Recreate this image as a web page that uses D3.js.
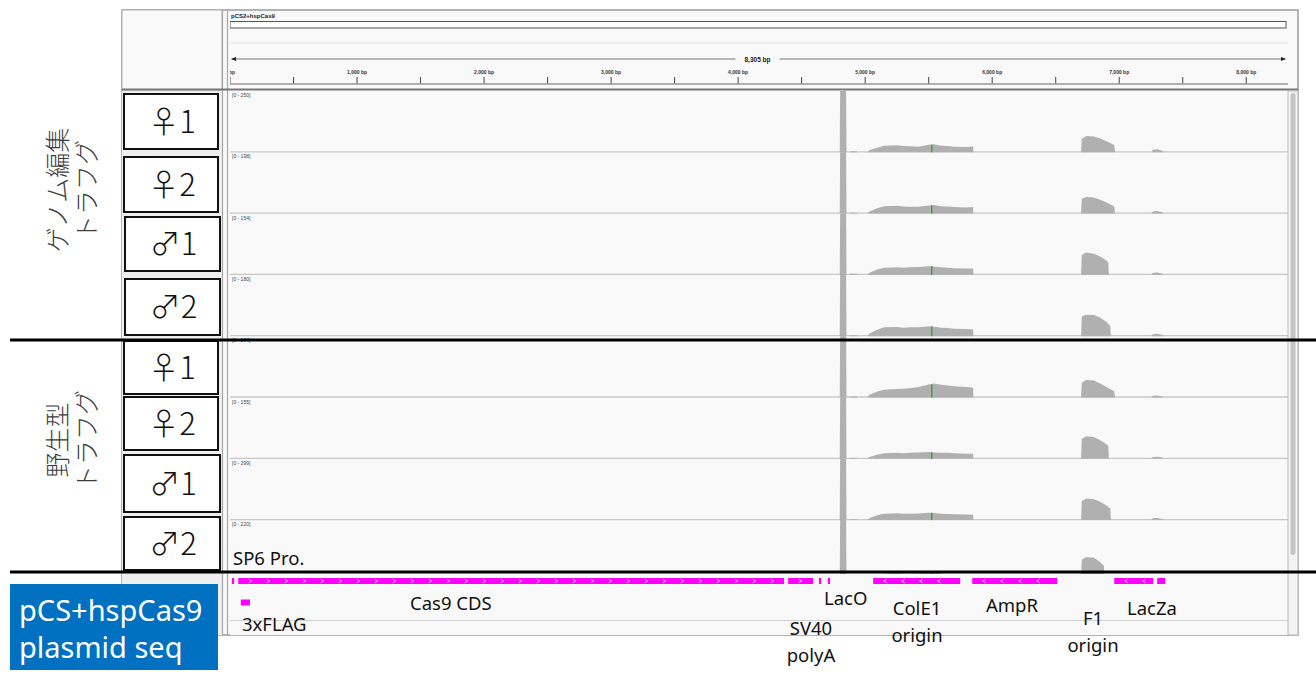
<!DOCTYPE html>
<html>
<head>
<meta charset="utf-8">
<script src="https://cdn.jsdelivr.net/npm/d3@7"></script>
<style>
  body { margin: 0; background: #fff; }
  svg { display: block; }
</style>
</head>
<body>
<svg id="chart" width="1316" height="673"></svg>
<script>
// ---- data ----
var genomeName = "pCS2+hspCas9";
var genomeLength = 8305;
var majorTicks = [0, 1000, 2000, 3000, 4000, 5000, 6000, 7000, 8000];
var minorTicks = [500, 1500, 2500, 3500, 4500, 5500, 6500, 7500];

var sampleLabels = ["♀1", "♀2", "♂1", "♂2", "♀1", "♀2", "♂1", "♂2"];
var dataRanges = [250, 198, 154, 180, 174, 155, 399, 220];
var groupLabels = [["ゲノム編集", "トラフグ"], ["野生型", "トラフグ"]];

// coverage, [bp, depth]; 5000 = off scale spike
var covF1 = [[4800,0],[4803,5000],[4850,5000],[4853,0],[4880,0],[4882,4],[4935,4],[4937,0],[5020,0],[5030,8],[5100,20],[5150,27],[5250,29],[5300,26],[5350,25],[5420,23],[5500,31],[5540,33],[5600,27],[5650,26],[5700,23],[5800,22],[5850,24],[5852,0],[6700,0],[6705,55],[6740,66],[6800,64],[6850,56],[6900,45],[6960,30],[6968,0],[7255,0],[7262,10],[7300,12],[7340,6],[7350,0]];
var covF2 = [[4800,0],[4803,5000],[4850,5000],[4853,0],[4880,0],[4882,3],[4935,3],[4937,0],[5020,0],[5030,6],[5100,18],[5150,24],[5250,25],[5300,23],[5350,22],[5420,22],[5500,26],[5540,28],[5600,24],[5650,23],[5700,21],[5800,20],[5850,21],[5852,0],[6700,0],[6705,48],[6740,54],[6800,52],[6850,45],[6900,36],[6960,24],[6968,0],[7255,0],[7262,7],[7300,8],[7340,4],[7350,0]];
var covM1 = [[4800,0],[4803,5000],[4850,5000],[4853,0],[4880,0],[4882,3],[4935,3],[4937,0],[5020,0],[5030,5],[5100,14],[5150,18],[5250,19],[5300,18],[5350,19],[5420,20],[5500,22],[5540,21],[5600,19],[5650,18],[5700,17],[5800,16],[5850,16],[5852,0],[6700,0],[6705,50],[6740,56],[6800,53],[6850,46],[6900,36],[6915,30],[6918,0],[7255,0],[7262,5],[7300,6],[7340,3],[7350,0]];
var covM2 = [[4800,0],[4803,5000],[4850,5000],[4853,0],[4880,0],[4882,3],[4935,3],[4937,0],[5020,0],[5030,7],[5100,20],[5150,26],[5250,27],[5300,25],[5350,26],[5420,26],[5500,29],[5540,28],[5600,25],[5650,24],[5700,22],[5800,21],[5850,20],[5852,0],[6700,0],[6705,58],[6740,63],[6800,62],[6850,55],[6900,42],[6930,30],[6934,0],[7255,0],[7262,6],[7300,7],[7340,4],[7350,0]];
var covWF1 = [[4800,0],[4803,5000],[4850,5000],[4853,0],[4880,0],[4882,3],[4935,3],[4937,0],[5020,0],[5030,7],[5100,18],[5150,22],[5250,24],[5300,25],[5350,26],[5420,30],[5500,37],[5540,40],[5600,36],[5650,34],[5700,32],[5800,30],[5850,28],[5852,0],[6700,0],[6705,42],[6740,50],[6800,48],[6850,40],[6900,30],[6960,18],[6968,0],[7255,0],[7262,5],[7300,6],[7340,3],[7350,0]];
var covWF2 = [[4800,0],[4803,5000],[4850,5000],[4853,0],[4880,0],[4882,2],[4935,2],[4937,0],[5020,0],[5030,4],[5100,11],[5150,14],[5250,15],[5300,14],[5350,15],[5420,16],[5500,17],[5540,16],[5600,15],[5650,15],[5700,14],[5800,13],[5850,13],[5852,0],[6700,0],[6705,50],[6740,57],[6800,55],[6850,47],[6900,37],[6915,32],[6918,0],[7255,0],[7262,4],[7300,5],[7340,3],[7350,0]];
var covWM1 = [[4800,0],[4803,5000],[4850,5000],[4853,0],[4880,0],[4882,6],[4935,6],[4937,0],[5020,0],[5030,12],[5100,34],[5150,42],[5250,44],[5300,41],[5350,42],[5420,43],[5500,48],[5540,46],[5600,42],[5650,40],[5700,38],[5800,36],[5850,35],[5852,0],[6700,0],[6705,125],[6740,140],[6800,136],[6850,120],[6900,95],[6930,75],[6934,0],[7255,0],[7262,12],[7300,14],[7340,7],[7350,0]];
var covWM2 = [[4800,0],[4803,5000],[4850,5000],[4853,0],[4880,0],[4882,4],[4935,4],[4937,0],[5020,0],[5030,8],[5100,22],[5150,28],[5250,30],[5300,28],[5350,28],[5420,29],[5500,32],[5540,31],[5600,28],[5650,27],[5700,25],[5800,24],[5850,23],[5852,0],[6700,0],[6705,78],[6740,88],[6800,85],[6850,70],[6880,55],[6884,0],[7255,0],[7262,8],[7300,9],[7340,5],[7350,0]];
var coverage = [covF1, covF2, covM1, covM2, covWF1, covWF2, covWM1, covWM2];
var mismatchBp = 5520;

var featureNames  = ["SP6 promoter", "Cas9 CDS", "3xFLAG", "SV40 polyA", "LacO", "LacO", "ColE1 origin", "AmpR", "LacZa", "LacZa"];
var featureStart  = [15, 65, 85, 4394, 4636, 4706, 5063, 5843, 6961, 7299];
var featureEnd    = [33, 4362, 157, 4591, 4654, 4724, 5748, 6512, 7268, 7362];
var featureStrand = ["+", "+", "+", "+", "+", "+", "-", "-", "-", "-"];

var noteTexts = ["SP6 Pro.", "Cas9 CDS", "3xFLAG", "LacO", "SV40\npolyA", "ColE1\norigin", "AmpR", "F1\norigin", "LacZa"];
var legendText = ["pCS+hspCas9", "plasmid seq"];

// ---- layout ----
var svg = d3.select("#chart");
var dataLeft = 230, dataRight = 1285;
var x = d3.scaleLinear().domain([0, genomeLength]).range([dataLeft, dataRight]);
var trackTop = 91, trackH = 61.3;
var featTop = 574, panelBottom = 635;

// window frame and backgrounds
svg.append("rect").attr("x", 122).attr("y", 10).attr("width", 1176).attr("height", panelBottom - 10)
  .attr("fill", "#f9f9f9").attr("stroke", "#9a9a9a").attr("stroke-width", 1.5);
svg.append("rect").attr("x", 122).attr("y", 10).attr("width", 100).attr("height", 80)
  .attr("fill", "#fafafa").attr("stroke", "#b0b0b0");
svg.append("rect").attr("x", 122).attr("y", 91).attr("width", 100).attr("height", panelBottom - 91)
  .attr("fill", "#efefef");
svg.selectAll("line.vdiv").data([222.5, 227.5]).enter().append("line")
  .attr("x1", function(d) { return d; }).attr("x2", function(d) { return d; })
  .attr("y1", 10).attr("y2", panelBottom).attr("stroke", "#a8a8a8").attr("stroke-width", 1.2);
svg.append("line").attr("x1", 122).attr("x2", 1298).attr("y1", 89.5).attr("y2", 89.5)
  .attr("stroke", "#777").attr("stroke-width", 2);

// ruler
var ruler = svg.append("g");
var clip = svg.append("clipPath").attr("id", "dataClip");
clip.append("rect").attr("x", dataLeft).attr("y", 10).attr("width", 1288 - dataLeft).attr("height", 625);
ruler.attr("clip-path", "url(#dataClip)");
ruler.append("text").attr("x", dataLeft + 1).attr("y", 18).text(genomeName)
  .attr("font-family", "Liberation Sans, Arial").attr("font-size", 6).attr("font-weight", "bold").attr("fill", "#222");
ruler.append("rect").attr("x", dataLeft).attr("y", 21.5).attr("width", x(genomeLength) - dataLeft + 1).attr("height", 6.5)
  .attr("fill", "#fff").attr("stroke", "#555").attr("stroke-width", 1);
ruler.append("line").attr("x1", dataLeft).attr("x2", 1288).attr("y1", 43).attr("y2", 43).attr("stroke", "#e2e2e2");
ruler.append("line").attr("x1", dataLeft + 2).attr("x2", x(genomeLength)).attr("y1", 59).attr("y2", 59)
  .attr("stroke", "#777").attr("stroke-width", 1.2);
ruler.append("path").attr("d", "M" + (dataLeft + 1) + ",59 l5,-2 l0,4 z").attr("fill", "#222");
ruler.append("path").attr("d", "M" + (x(genomeLength) + 1) + ",59 l-5,-2 l0,4 z").attr("fill", "#222");
var spanLabel = d3.format(",")(genomeLength) + " bp";
ruler.append("rect").attr("x", x(genomeLength / 2) - 22).attr("y", 54).attr("width", 44).attr("height", 10).attr("fill", "#f9f9f9");
ruler.append("text").attr("x", x(genomeLength / 2)).attr("y", 61.5).attr("text-anchor", "middle").text(spanLabel)
  .attr("font-family", "Liberation Sans, Arial").attr("font-size", 6.5).attr("font-weight", "bold").attr("fill", "#222");
ruler.selectAll("line.maj").data(majorTicks.concat(minorTicks)).enter().append("line")
  .attr("x1", function(d) { return x(d); }).attr("x2", function(d) { return x(d); })
  .attr("y1", 77).attr("y2", 83.5).attr("stroke", "#444").attr("stroke-width", 1);
ruler.selectAll("text.tl").data(majorTicks).enter().append("text")
  .attr("x", function(d) { return x(d); }).attr("y", 74).attr("text-anchor", "middle")
  .text(function(d) { return d3.format(",")(d) + " bp"; })
  .attr("font-family", "Liberation Sans, Arial").attr("font-size", 5).attr("font-weight", "bold").attr("fill", "#333");
ruler.append("line").attr("x1", dataLeft).attr("x2", 1288).attr("y1", 84).attr("y2", 84).attr("stroke", "#666");

// tracks
var tracks = svg.append("g").attr("clip-path", "url(#dataClip)");
coverage.forEach(function(c, i) {
  var yb = trackTop + (i + 1) * trackH - 0.5;
  tracks.append("line").attr("x1", dataLeft).attr("x2", 1288).attr("y1", yb).attr("y2", yb)
    .attr("stroke", "#c8c8c8").attr("stroke-width", 1.3);
});
coverage.forEach(function(c, i) {
  var yTop = trackTop + i * trackH, yBot = yTop + trackH;
  var max = dataRanges[i];
  var y = d3.scaleLinear().domain([0, max]).range([yBot, yTop]).clamp(true);
  var area = d3.area().x(function(d) { return x(d[0]); }).y0(yBot).y1(function(d) { return y(d[1]); });
  tracks.append("path").datum(c).attr("d", area).attr("fill", "#b0b0b0");
  // mismatch column, drawn to the nearest listed depth
  var near = c.reduce(function(a, b) { return Math.abs(b[0] - mismatchBp) < Math.abs(a[0] - mismatchBp) ? b : a; });
  tracks.append("rect").attr("x", x(mismatchBp)).attr("y", y(near[1])).attr("width", 1.2)
    .attr("height", yBot - y(near[1])).attr("fill", "#2a9a2a");
  tracks.append("text").attr("x", dataLeft + 2).attr("y", yTop + 6).text("[0 - " + max + "]")
    .attr("font-family", "Liberation Sans, Arial").attr("font-size", 5).attr("fill", "#444");
});

// feature track
svg.append("rect").attr("x", dataLeft).attr("y", featTop).attr("width", 1288 - dataLeft).attr("height", panelBottom - featTop)
  .attr("fill", "#f9f9f9");
svg.append("line").attr("x1", dataLeft).attr("x2", 1288).attr("y1", 620.5).attr("y2", 620.5).attr("stroke", "#d0d0d0");
var feats = featureNames.map(function(n, i) {
  return { name: n, start: featureStart[i], end: featureEnd[i], strand: featureStrand[i], row: n === "3xFLAG" ? 1 : 0 };
});
var fg = svg.append("g");
fg.selectAll("rect").data(feats).enter().append("rect")
  .attr("x", function(d) { return x(d.start); })
  .attr("y", function(d) { return d.row ? 599.5 : 578; })
  .attr("width", function(d) { return Math.max(1.5, x(d.end) - x(d.start)); })
  .attr("height", 6).attr("fill", "#ff00ff");
feats.forEach(function(d) {
  if (d.row || x(d.end) - x(d.start) < 20) return;
  for (var px = x(d.start) + 12; px < x(d.end) - 4; px += 18) {
    var dir = d.strand === "+" ? 1 : -1;
    fg.append("path").attr("d", "M" + (px - dir * 1.5) + ",579.2 L" + (px + dir * 1.5) + ",581 L" + (px - dir * 1.5) + ",582.8")
      .attr("fill", "none").attr("stroke", "#fff").attr("stroke-width", 0.8);
  }
});

// scrollbar
svg.append("rect").attr("x", 1288).attr("y", 91).attr("width", 10).attr("height", panelBottom - 91).attr("fill", "#f3f3f3")
  .attr("stroke", "#bbb");
svg.append("rect").attr("x", 1290.5).attr("y", 93).attr("width", 5).attr("height", 462).attr("rx", 2.5).attr("fill", "#c4c4c4");

// annotation overlay: sample boxes
var boxes = [[124, 94, 94, 55], [124, 157, 94, 55], [125, 217, 95, 54], [125, 279, 95, 56],
             [124, 341, 94, 53], [124, 397, 94, 53], [124, 455, 96, 57], [124, 517, 96, 53]];
boxes.forEach(function(b, i) {
  svg.append("rect").attr("x", b[0]).attr("y", b[1]).attr("width", b[2]).attr("height", b[3])
    .attr("fill", "#fff").attr("stroke", "#111").attr("stroke-width", 2);
  svg.append("text").attr("x", b[0] + b[2] / 2 + 1).attr("y", b[1] + b[3] / 2 + 11).attr("text-anchor", "middle")
    .text(sampleLabels[i])
    .attr("font-family", "Noto Sans CJK JP").attr("font-weight", 300).attr("font-size", 31).attr("fill", "#111");
});

// group labels (vertical)
var groupCenters = [190, 440];
groupLabels.forEach(function(lines, g) {
  lines.forEach(function(t, j) {
    svg.append("text").attr("transform", "translate(" + (56 + j * 29) + "," + groupCenters[g] + ") rotate(-90)")
      .attr("text-anchor", "middle").attr("dominant-baseline", "central").text(t)
      .attr("font-family", "Noto Sans CJK JP").attr("font-weight", 300).attr("font-size", 25).attr("fill", "#3c3c3c");
  });
});

// separators
[340, 572].forEach(function(yy) {
  svg.append("line").attr("x1", 10).attr("x2", 1316).attr("y1", yy).attr("y2", yy).attr("stroke", "#000").attr("stroke-width", 3);
});

// feature notes
var notePos = [[233, 565], [410, 610], [242, 631], [824, 605], [789, 635], [892, 615], [986, 612], [1085, 625], [1127, 615]];
var noteAnchor = [null, null, null, null, 811, 917, null, 1093, null];
noteTexts.forEach(function(t, i) {
  var parts = t.split("\n");
  parts.forEach(function(p, j) {
    var tx = svg.append("text").attr("y", notePos[i][1] + j * 27).text(p)
      .attr("font-family", "Noto Sans, Open Sans").attr("font-size", 18.5).attr("fill", "#111");
    if (noteAnchor[i]) tx.attr("x", noteAnchor[i]).attr("text-anchor", "middle");
    else tx.attr("x", notePos[i][0]);
  });
});

// legend box
svg.append("rect").attr("x", 10).attr("y", 584).attr("width", 208).attr("height", 86).attr("fill", "#0070c0");
legendText.forEach(function(t, i) {
  svg.append("text").attr("x", 19).attr("y", 621 + i * 37).text(t)
    .attr("font-family", "Noto Sans, Open Sans").attr("font-size", 29).attr("fill", "#fff");
});
</script>
</body>
</html>
